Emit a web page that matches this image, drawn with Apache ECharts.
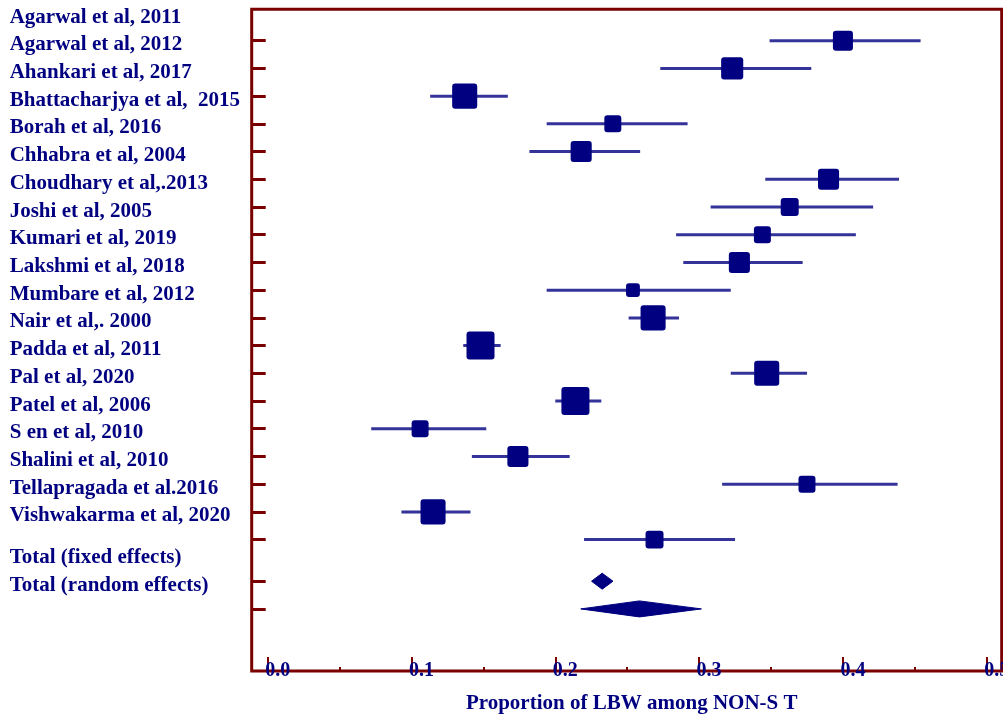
<!DOCTYPE html>
<html><head><meta charset="utf-8">
<script src="https://cdn.jsdelivr.net/npm/echarts@6/dist/echarts.min.js"></script>
<style>html,body{margin:0;padding:0;background:#fff}#chart{width:1003px;height:715px}</style>
</head><body><div id="chart"></div>
<script>
// ---- data ----
const studyLabels = [
  'Agarwal et al, 2011','Agarwal et al, 2012','Ahankari et al, 2017','Bhattacharjya et al,  2015',
  'Borah et al, 2016','Chhabra et al, 2004','Choudhary et al,.2013','Joshi et al, 2005',
  'Kumari et al, 2019','Lakshmi et al, 2018','Mumbare et al, 2012','Nair et al,. 2000',
  'Padda et al, 2011','Pal et al, 2020','Patel et al, 2006','S en et al, 2010',
  'Shalini et al, 2010','Tellapragada et al.2016','Vishwakarma et al, 2020'
];
const totalLabels = ['Total (fixed effects)','Total (random effects)'];
const estimates = [0.400,0.323,0.137,0.240,0.218,0.390,0.363,0.344,0.328,0.254,0.268,0.148,0.347,0.214,0.106,0.174,0.375,0.115,0.269];
const lowerCI   = [0.349,0.273,0.113,0.194,0.182,0.346,0.308,0.284,0.289,0.194,0.251,0.136,0.322,0.200,0.072,0.142,0.316,0.093,0.220];
const upperCI   = [0.454,0.378,0.167,0.292,0.259,0.439,0.421,0.409,0.372,0.322,0.286,0.162,0.375,0.232,0.152,0.210,0.438,0.141,0.325];
const weights   = [4.6,5.6,7.2,3.3,5.1,5.1,3.7,3.3,5.1,2.2,7.2,9.0,7.2,9.0,3.3,5.1,3.3,7.2,3.7];
const totalEstimates = [0.2326,0.2585];
const totalLower     = [0.2252,0.2177];
const totalUpper     = [0.2401,0.3016];
const xTicks      = [0,0.1,0.2,0.3,0.4,0.5];
const xMinorTicks = [0.05,0.15,0.25,0.35,0.45];
const xTitle = 'Proportion of LBW among NON-S T';

// ---- build ----
const studyRows = studyLabels.map((_, i) => i);
const totalRows = totalLabels.map((_, j) => 19.5 + j);
const allRows = studyRows.concat(totalRows);
const allLabels = studyLabels.concat(totalLabels);
const LABEL_SHIFT = 0.85; // labels sit about one row above their marks, as in the reference
const labelRows = allRows.map(r => r - LABEL_SHIFT);

const studyData = estimates.map((e, i) => [lowerCI[i], e, upperCI[i], studyRows[i], weights[i]]);
const totalData = totalEstimates.map((e, j) => [totalLower[j], e, totalUpper[j], totalRows[j]]);

const NAVY = '#000080', LINE = '#333399', MAROON = '#7a0000';
const FONT = '"Liberation Serif","Times New Roman",serif';

function renderStudy(params, api) {
  const row = api.value(3);
  const lo = api.coord([api.value(0), row]);
  const c = api.coord([api.value(1), row]);
  const hi = api.coord([api.value(2), row]);
  const s = 9.34 * Math.sqrt(api.value(4));
  return {type: 'group', children: [
    {type: 'line', shape: {x1: lo[0], y1: lo[1], x2: hi[0], y2: hi[1]}, style: {stroke: LINE, lineWidth: 3}},
    {type: 'rect', shape: {x: c[0] - s / 2, y: c[1] - s / 2, width: s, height: s, r: 3}, style: {fill: NAVY}}
  ]};
}
function renderTotal(params, api) {
  const row = api.value(3);
  const lo = api.coord([api.value(0), row]);
  const c = api.coord([api.value(1), row]);
  const hi = api.coord([api.value(2), row]);
  const h = 8;
  return {type: 'polygon', shape: {points: [[lo[0], lo[1]], [c[0], c[1] - h], [hi[0], hi[1]], [c[0], c[1] + h]]},
    style: {fill: NAVY, stroke: NAVY, lineWidth: 1}};
}

const chart = echarts.init(document.getElementById('chart'), null, {renderer: 'canvas'});
chart.setOption({
  animation: false,
  backgroundColor: '#fff',
  grid: {left: 251.7, right: 1.3, top: 9.3, bottom: 44, containLabel: false, outerBoundsMode: 'none',
    show: true, borderColor: MAROON, borderWidth: 3, backgroundColor: 'transparent'},
  xAxis: [{
    type: 'value', min: -0.0111, max: 0.5104, position: 'bottom',
    axisLine: {show: false, onZero: false}, splitLine: {show: false},
    axisTick: {show: true, inside: true, length: 14, customValues: xTicks, lineStyle: {color: MAROON, width: 2}},
    axisLabel: {show: true, customValues: xTicks, formatter: v => v.toFixed(1), margin: 0, verticalAlign: 'middle',
      align: 'center', padding: [0, 0, 0, 20], fontFamily: FONT, fontWeight: 'bold', fontSize: 20, color: NAVY},
    name: xTitle, nameLocation: 'middle', nameGap: 22,
    nameTextStyle: {fontFamily: FONT, fontWeight: 'bold', fontSize: 21, color: NAVY, padding: [0, 0, 0, 10]}
  }, {
    type: 'value', min: -0.0111, max: 0.5104, position: 'bottom', offset: 0,
    axisLine: {show: false, onZero: false}, splitLine: {show: false}, axisLabel: {show: false},
    axisTick: {show: true, inside: true, length: 4, customValues: xMinorTicks, lineStyle: {color: MAROON, width: 2}}
  }],
  yAxis: [{
    type: 'value', inverse: true, min: -1.133, max: 22.74, position: 'left',
    axisLine: {show: false, onZero: false}, splitLine: {show: false},
    axisTick: {show: true, inside: true, length: 14, customValues: allRows, lineStyle: {color: MAROON, width: 3}},
    axisLabel: {show: false}
  }, {
    type: 'value', inverse: true, min: -1.133, max: 22.74, position: 'left', offset: 0,
    axisLine: {show: false, onZero: false}, splitLine: {show: false}, axisTick: {show: false},
    axisLabel: {show: true, customValues: labelRows,
      formatter: v => { const k = labelRows.findIndex(r => Math.abs(r - v) < 1e-6); return k >= 0 ? allLabels[k] : ''; },
      align: 'left', margin: 242, verticalAlign: 'middle',
      fontFamily: FONT, fontWeight: 'bold', fontSize: 21, color: NAVY}
  }],
  series: [
    {type: 'custom', name: 'studies', xAxisIndex: 0, yAxisIndex: 0, renderItem: renderStudy, data: studyData, encode: {x: [0, 1, 2], y: 3}},
    {type: 'custom', name: 'totals', xAxisIndex: 0, yAxisIndex: 0, renderItem: renderTotal, data: totalData, encode: {x: [0, 1, 2], y: 3}}
  ]
});
</script>
</body></html>
